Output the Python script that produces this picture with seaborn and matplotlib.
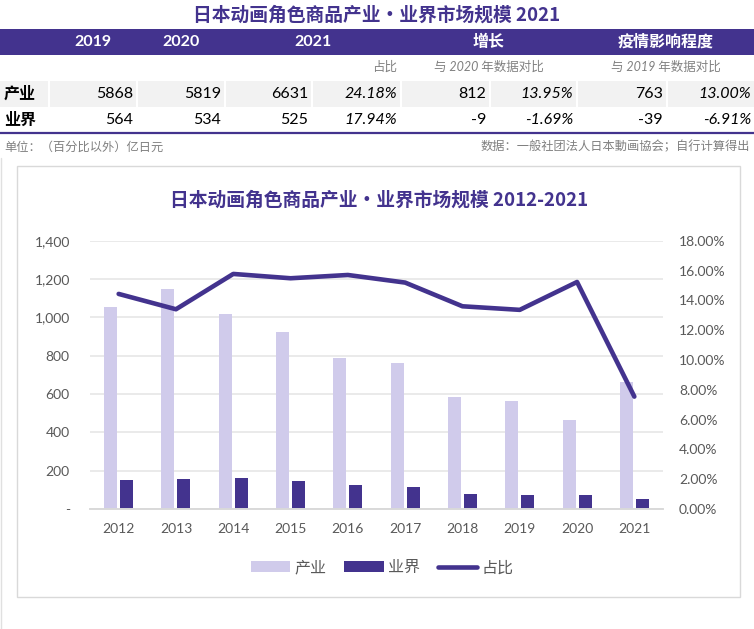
import matplotlib
matplotlib.use("Agg")
import matplotlib.pyplot as plt
import matplotlib.ticker as mticker
from matplotlib.patches import Rectangle, Patch
from matplotlib.lines import Line2D
import seaborn as sns
import pandas as pd
import numpy as np

# ---------------- data ----------------
years = ["2012", "2013", "2014", "2015", "2016", "2017", "2018", "2019", "2020", "2021"]
industry = [1055, 1150, 1020, 925, 790, 763, 586, 563, 466, 663]
business = [153, 158, 163, 148, 127, 115, 80, 73, 73, 52]
share = [0.1443, 0.1340, 0.1577, 0.1548, 0.1570, 0.1519, 0.1360, 0.1336, 0.1523, 0.0754]
series_names = ["产业", "业界", "占比"]

title_top = "日本动画角色商品产业•业界市场规模 2021"
chart_title = "日本动画角色商品产业•业界市场规模 2012-2021"
table_headers = ["2019", "2020", "2021", "增长", "疫情影响程度"]
table_subheaders = ["占比", "与 2020 年数据对比", "与 2019 年数据对比"]
row_labels = ["产业", "业界"]
row_industry = ["5868", "5819", "6631", "24.18%", "812", "13.95%", "763", "13.00%"]
row_business = ["564", "534", "525", "17.94%", "-9", "-1.69%", "-39", "-6.91%"]
note_left = "单位：（百分比以外）亿日元"
note_right = "数据：一般社团法人日本動画協会；自行计算得出"

# ---------------- style ----------------
sns.set_theme(style="white")
plt.rcParams['font.family'] = ['Lato', 'Noto Sans CJK SC', 'DejaVu Sans']
TITLE_FAMILY = ['Noto Sans CJK SC', 'Lato', 'DejaVu Sans']

PURPLE = "#43338e"
LIGHT = "#d0cbeb"
GRAY_TXT = "#595959"
NOTE_GRAY = "#808080"

W, H = 754, 629
fig = plt.figure(figsize=(W / 100, H / 100), dpi=100)
fig.patch.set_facecolor("white")

# background axes in pixel coordinates
bg = fig.add_axes([0, 0, 1, 1], zorder=0)
bg.set_xlim(0, W)
bg.set_ylim(H, 0)
bg.axis("off")

# top title
bg.text(377, 15.5, title_top, ha="center", va="center", fontsize=13.5,
        fontweight="bold", color=PURPLE, family=TITLE_FAMILY)

# header band
bg.add_patch(Rectangle((0, 29), W, 26, facecolor=PURPLE, edgecolor="none"))
hdr_x = [93, 181, 313, 489, 666]
for t, x in zip(table_headers, hdr_x):
    bg.text(x, 42, t, ha="center", va="center", fontsize=11.5,
            fontweight="bold", color="white")

# subheaders
bg.text(397, 67, table_subheaders[0], ha="right", va="center", fontsize=9,
        style="italic", color=NOTE_GRAY)
bg.text(489, 67, table_subheaders[1], ha="center", va="center", fontsize=9,
        style="italic", color=NOTE_GRAY)
bg.text(666, 67, table_subheaders[2], ha="center", va="center", fontsize=9,
        style="italic", color=NOTE_GRAY)

# table cells
cells = [(0, 48), (50, 136), (138, 224), (226, 311), (313, 400),
         (402, 489), (491, 576), (578, 666), (668, 754)]
for (x0, x1) in cells:
    bg.add_patch(Rectangle((x0, 81), x1 - x0, 26, facecolor="#f2f2f2",
                           edgecolor="none"))

row_y = [94, 120]
for ry, lab, vals in zip(row_y, row_labels, [row_industry, row_business]):
    bg.text(4, ry, lab, ha="left", va="center", fontsize=11.5,
            fontweight="bold", color="black")
    for (x0, x1), v in zip(cells[1:], vals):
        italic = v.endswith("%")
        bg.text(x1 - 3, ry, v, ha="right", va="center", fontsize=11.5,
                style="italic" if italic else "normal", color="black")

# bottom rule of the table
bg.plot([0, W], [133, 133], color=PURPLE, lw=1.6, solid_capstyle="butt")

# notes
bg.text(4, 146.5, note_left, ha="left", va="center", fontsize=8.8,
        style="italic", color=NOTE_GRAY)
bg.text(750, 146.5, note_right, ha="right", va="center", fontsize=8.8,
        style="italic", color=NOTE_GRAY)

# faint left border line
bg.plot([1, 1], [158, H], color="#e0e0e0", lw=1)

# chart box
bg.add_patch(Rectangle((17, 166), 723, 431, facecolor="white",
                       edgecolor="#d9d9d9", lw=1))
bg.text(379, 200, chart_title, ha="center", va="center", fontsize=13.5,
        fontweight="bold", color=PURPLE, family=TITLE_FAMILY)

# ---------------- chart ----------------
left, right, top, bottom = 90, 663, 240.7, 509
ax = fig.add_axes([left / W, 1 - bottom / H, (right - left) / W, (bottom - top) / H],
                  zorder=1)
ax.set_facecolor("none")

df = pd.DataFrame({
    "year": years * 2,
    "series": [series_names[0]] * len(years) + [series_names[1]] * len(years),
    "value": industry + business,
})
sns.barplot(data=df, x="year", y="value", hue="series",
            hue_order=series_names[:2], palette=[LIGHT, PURPLE],
            width=0.56, gap=0.19, saturation=1, legend=False, ax=ax,
            edgecolor="none", linewidth=0)

ax2 = ax.twinx()
ax2.set_zorder(2)
ax2.set_facecolor("none")
sns.pointplot(x=years, y=share, ax=ax2, color=PURPLE, markers="",
              linewidth=3.3, errorbar=None)

ax.set_xlim(-0.5, len(years) - 0.5)
ax.set_ylim(0, 1400)
ax.set_yticks(np.arange(0, 1401, 200))
ax.yaxis.set_major_formatter(
    mticker.FuncFormatter(lambda v, p: "-" if v == 0 else f"{v:,.0f}"))
ax2.set_ylim(0, 0.18)
ax2.set_yticks(np.arange(0, 0.1801, 0.02))
ax2.yaxis.set_major_formatter(mticker.FuncFormatter(lambda v, p: f"{v*100:.2f}%"))

ax.grid(axis="y", color="#e6e6e6", lw=1.2)
ax.set_axisbelow(True)
ax2.grid(False)
for a in (ax, ax2):
    for s in ["top", "left", "right"]:
        a.spines[s].set_visible(False)
    a.spines["bottom"].set_color("#d9d9d9")
    a.spines["bottom"].set_linewidth(1.2)
    a.set_xlabel("")
    a.set_ylabel("")

ax.tick_params(axis="y", length=0, pad=14.5, labelsize=10, labelcolor=GRAY_TXT)
ax.tick_params(axis="x", length=0, pad=10, labelsize=10, labelcolor=GRAY_TXT)
ax2.tick_params(axis="y", length=0, pad=11.5, labelsize=10, labelcolor=GRAY_TXT)
ax2.tick_params(axis="x", length=0)

# legend
handles = [Patch(facecolor=LIGHT, edgecolor="none"),
           Patch(facecolor=PURPLE, edgecolor="none"),
           Line2D([0], [0], color=PURPLE, lw=3.3)]
fig.legend(handles, series_names, loc="center", bbox_to_anchor=(382 / W, 1 - 568 / H),
           ncol=3, frameon=False, fontsize=11.5, labelcolor=GRAY_TXT,
           handlelength=2.5, handleheight=0.7, handletextpad=0.25,
           columnspacing=1.1)

fig.savefig("out.png", dpi=100, facecolor="white")
